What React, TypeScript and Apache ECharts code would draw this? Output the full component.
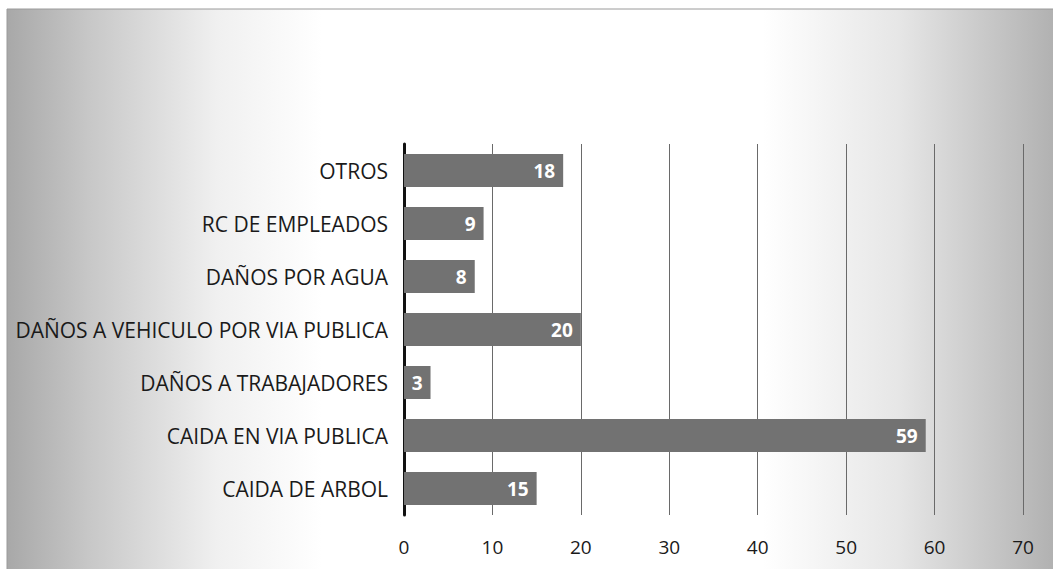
import React, { useEffect, useRef } from "react";
import * as echarts from "echarts";

const categories = [
  "CAIDA DE ARBOL",
  "CAIDA EN VIA PUBLICA",
  "DAÑOS A TRABAJADORES",
  "DAÑOS A VEHICULO POR VIA PUBLICA",
  "DAÑOS POR AGUA",
  "RC DE EMPLEADOS",
  "OTROS",
];
const values = [15, 59, 3, 20, 8, 9, 18];

export default function App() {
  const ref = useRef<HTMLDivElement>(null);
  useEffect(() => {
    if (!ref.current) return;
    const chart = echarts.init(ref.current, null, { renderer: "svg" });
    chart.setOption({
      animation: false,
      backgroundColor: "#ffffff",
      graphic: [
        {
          type: "rect",
          z: -100,
          silent: true,
          shape: { x: 7, y: 9, width: 1050, height: 566 },
          style: {
            fill: new echarts.graphic.LinearGradient(0, 0, 1, 0, [
              { offset: 0, color: "#a8a8a8" },
              { offset: 0.08, color: "#c8c8c8" },
              { offset: 0.2, color: "#f0f0f0" },
              { offset: 0.3, color: "#ffffff" },
              { offset: 0.72, color: "#ffffff" },
              { offset: 0.85, color: "#e6e6e6" },
              { offset: 0.95, color: "#c2c2c2" },
              { offset: 1, color: "#b0b0b0" },
            ]),
            stroke: "#9a9a9a",
            lineWidth: 1,
          },
        },
      ],
      grid: { left: 404, right: 30, top: 144, bottom: 54, containLabel: false },
      xAxis: {
        type: "value",
        min: 0,
        max: 70,
        interval: 10,
        axisLine: { show: false },
        axisTick: { show: false },
        axisLabel: {
          color: "#1a1a1a",
          fontSize: 19,
          fontFamily: "Open Sans",
          margin: 22,
        },
        splitLine: { show: true, lineStyle: { color: "#6a6a6a", width: 1 } },
      },
      yAxis: {
        type: "category",
        data: categories,
        axisLine: { show: true, lineStyle: { color: "#111", width: 3 } },
        axisTick: { show: false },
        axisLabel: {
          color: "#1a1a1a",
          fontSize: 21,
          fontFamily: "Open Sans",
          margin: 16,
        },
      },
      series: [
        {
          type: "bar",
          data: values,
          barWidth: 33,
          itemStyle: { color: "#727272" },
          label: {
            show: true,
            position: "insideRight",
            color: "#ffffff",
            fontWeight: "bold",
            fontSize: 19,
            fontFamily: "Open Sans",
            distance: 8,
          },
        },
      ],
    });
    return () => chart.dispose();
  }, []);
  return (
    <div
      ref={ref}
      style={{ position: "fixed", left: 0, top: 0, width: 1053, height: 569 }}
    />
  );
}
